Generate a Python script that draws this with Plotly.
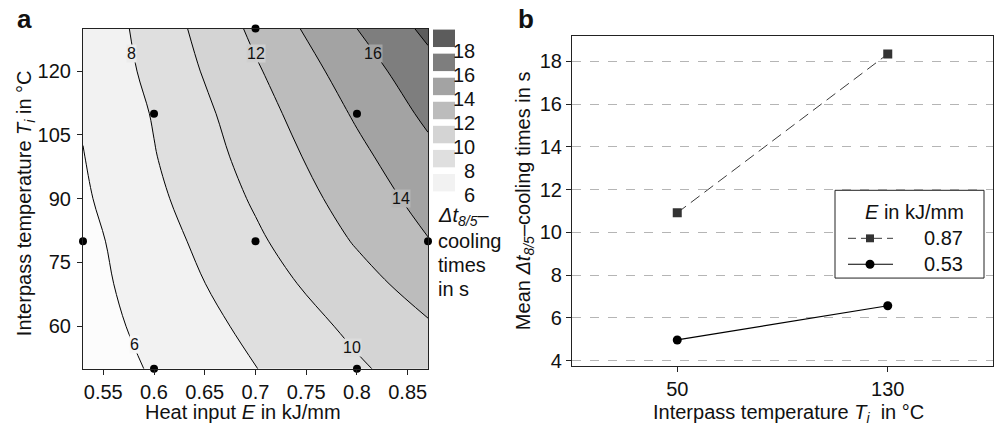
import plotly.graph_objects as go

# ---------------- data ----------------
# Panel a: response surface grid
E_grid = [0.53, 0.60, 0.70, 0.80, 0.87]
T_grid = [50, 60, 70, 80, 90, 100, 110, 120, 130]
Z_grid = [
    [4.93, 6.18, 7.96, 9.74, 10.98],
    [5.17, 6.54, 8.49, 10.44, 11.80],
    [5.33, 6.88, 9.09, 11.30, 12.85],
    [5.45, 7.19, 9.68, 12.17, 13.92],
    [5.74, 7.59, 10.23, 12.87, 14.71],
    [5.95, 7.91, 10.72, 13.53, 15.49],
    [6.15, 8.13, 11.19, 14.25, 16.40],
    [6.35, 8.52, 11.77, 15.02, 17.30],
    [6.50, 8.80, 12.43, 16.00, 18.46],
]
design_E = [0.70, 0.60, 0.80, 0.53, 0.70, 0.87, 0.60, 0.80]
design_T = [130, 110, 110, 80, 80, 80, 50, 50]

levels_start, levels_end, levels_size = 6, 18, 2
band_colors = ["#fcfcfc", "#f2f2f2", "#dfdfdf", "#d4d4d4",
               "#bcbcbc", "#a3a3a3", "#7e7e7e", "#5c5c5c"]
legend_labels_a = ["18", "16", "14", "12", "10", "8", "6"]

# contour line labels (text, E, T)
clabel_text = ["8", "12", "16", "14", "6", "10"]
clabel_E = [0.578, 0.700, 0.8153, 0.8433, 0.581, 0.795]
clabel_T = [124.1, 124.1, 124.1, 90.1, 55.7, 55.0]
clabel_bg = ["#ececec", "#cfcfcf", "#a3a3a3", "#b6b6b6", "#f7f7f7", "#dcdcdc"]

xticks_a = [0.55, 0.60, 0.65, 0.70, 0.75, 0.80, 0.85]
xticktext_a = ["0.55", "0.6", "0.65", "0.7", "0.75", "0.8", "0.85"]
yticks_a = [60, 75, 90, 105, 120]

# Panel b: mean cooling times
Ti_levels = [50, 130]
series_names = ["0.87", "0.53"]
mean_087 = [10.92, 18.35]
mean_053 = [4.97, 6.57]
yticks_b = [4, 6, 8, 10, 12, 14, 16, 18]

# ---------------- figure ----------------
W, H = 994, 430
FONT = "Liberation Sans, Arial, sans-serif"
FS = 20


def px_x(p):
    return p / W


def px_y(p):
    return 1 - p / H


fig = go.Figure()

n = len(band_colors)
colorscale = [[i / (n - 1), c] for i, c in enumerate(band_colors)]

fig.add_trace(go.Contour(
    x=E_grid, y=T_grid, z=Z_grid,
    xaxis="x", yaxis="y",
    colorscale=colorscale, showscale=False,
    contours=dict(start=levels_start, end=levels_end, size=levels_size,
                  coloring="fill", showlabels=False),
    line=dict(color="black", width=1, smoothing=1.0),
    hoverinfo="skip", showlegend=False,
))

fig.add_trace(go.Scatter(
    x=design_E, y=design_T, mode="markers", xaxis="x", yaxis="y",
    marker=dict(color="black", size=8), cliponaxis=False, showlegend=False,
))

fig.add_trace(go.Scatter(
    x=Ti_levels, y=mean_087, mode="lines+markers", xaxis="x2", yaxis="y2",
    name=series_names[0], showlegend=False,
    line=dict(color="#3a3a3a", width=1, dash="11px,6px"),
    marker=dict(symbol="square", size=9, color="#333333"),
))
fig.add_trace(go.Scatter(
    x=Ti_levels, y=mean_053, mode="lines+markers", xaxis="x2", yaxis="y2",
    name=series_names[1], showlegend=False,
    line=dict(color="black", width=1.2),
    marker=dict(symbol="circle", size=9, color="black"),
))

axis_common = dict(showline=True, linecolor="#222222", linewidth=1.2,
                   ticks="outside", ticklen=5, tickcolor="#222222",
                   tickfont=dict(size=FS, family=FONT, color="#111111"),
                   zeroline=False)

fig.update_layout(
    width=W, height=H,
    margin=dict(l=0, r=0, t=0, b=0),
    paper_bgcolor="white", plot_bgcolor="white",
    font=dict(family=FONT, color="#111111"),
    showlegend=False,
    xaxis=dict(domain=[px_x(83), px_x(428)], range=[0.53, 0.87],
               tickvals=xticks_a, ticktext=xticktext_a, showgrid=False,
               mirror=True, anchor="y", ticklabelstandoff=0, **axis_common),
    yaxis=dict(domain=[px_y(374), px_y(29)], range=[50, 130],
               tickvals=yticks_a, showgrid=False, mirror=True, anchor="x",
               ticklabelstandoff=2, **axis_common),
    xaxis2=dict(domain=[px_x(572), px_x(993)], range=[10, 170],
                tickvals=Ti_levels, showgrid=False, mirror=True, anchor="y2",
                ticklabelstandoff=0, **axis_common),
    yaxis2=dict(domain=[px_y(371), px_y(37)], range=[3.76, 19.17],
                tickvals=yticks_b, showgrid=True, gridcolor="#b5b5b5",
                griddash="dash", gridwidth=1, mirror=True, anchor="x2",
                **axis_common),
)

ann = []


def add_text(text, x, y, size=FS, xanchor="center", yanchor="middle",
             angle=0, **kw):
    ann.append(dict(text=text, x=px_x(x), y=px_y(y), xref="paper",
                    yref="paper", xanchor=xanchor, yanchor=yanchor,
                    showarrow=False, textangle=angle,
                    font=dict(size=size, family=FONT, color="#111111"), **kw))


# panel letters
add_text("<b>a</b>", 24, 19.5, size=26)
add_text("<b>b</b>", 526, 19.5, size=26)
# axis titles
add_text("Heat input <i>E</i> in kJ/mm", 243, 418)
add_text("Interpass temperature <i>T<sub>i</sub></i> in °C", 25, 206, angle=-90)
add_text("Interpass temperature <i>T<sub>i</sub></i>  in °C", 788, 419)
add_text("Mean <i>Δt<sub>8/5</sub></i>–cooling times in s", 524, 204, angle=-90)

# contour labels (upright, masking the line like the original)
for t, e, tt, bg in zip(clabel_text, clabel_E, clabel_T, clabel_bg):
    ann.append(dict(text=t, x=e, y=tt, xref="x", yref="y", showarrow=False,
                    xanchor="center", yanchor="middle", bgcolor=bg,
                    borderpad=0,
                    font=dict(size=16, family=FONT, color="#111111")))

# manual colour key for panel a
shapes = []
box_top0, pitch, box_h = 30, 24.4, 17.7
key_colors = band_colors[::-1][:len(legend_labels_a)]
for i, (lab, col) in enumerate(zip(legend_labels_a, key_colors)):
    t = box_top0 + i * pitch
    shapes.append(dict(type="rect", xref="paper", yref="paper",
                       x0=px_x(433), x1=px_x(455), y0=px_y(t + box_h), y1=px_y(t),
                       fillcolor=col, line=dict(width=0)))
    add_text(lab, 477, t + box_h + 4, xanchor="right")
key_title = ["<i>Δt<sub>8/5</sub></i>–", "cooling", "times", "in s"]
for i, line in enumerate(key_title):
    add_text(line, 436, 220 + i * 24.5, xanchor="left")

# manual legend for panel b
shapes.append(dict(type="rect", xref="paper", yref="paper",
                   x0=px_x(835), x1=px_x(984), y0=px_y(282), y1=px_y(193),
                   fillcolor="white", line=dict(color="#222222", width=1)))
add_text("<i>E</i> in kJ/mm", 914, 215)
# entry 1 (dashed, square)
shapes.append(dict(type="line", xref="paper", yref="paper",
                   x0=px_x(848), x1=px_x(893), y0=px_y(241.7), y1=px_y(241.7),
                   line=dict(color="#3a3a3a", width=1, dash="8px,5px")))
shapes.append(dict(type="rect", xref="paper", yref="paper",
                   x0=px_x(866), x1=px_x(874), y0=px_y(245.7), y1=px_y(237.7),
                   fillcolor="#333333", line=dict(width=0)))
add_text(series_names[0], 943, 241.7)
# entry 2 (solid, circle)
shapes.append(dict(type="line", xref="paper", yref="paper",
                   x0=px_x(848), x1=px_x(893), y0=px_y(268), y1=px_y(268),
                   line=dict(color="black", width=1.2)))
shapes.append(dict(type="circle", xref="paper", yref="paper",
                   x0=px_x(865.5), x1=px_x(874.5), y0=px_y(272.5), y1=px_y(263.5),
                   fillcolor="black", line=dict(width=0)))
add_text(series_names[1], 943, 268)

fig.update_layout(annotations=ann, shapes=shapes)
fig.write_html("out.html")
